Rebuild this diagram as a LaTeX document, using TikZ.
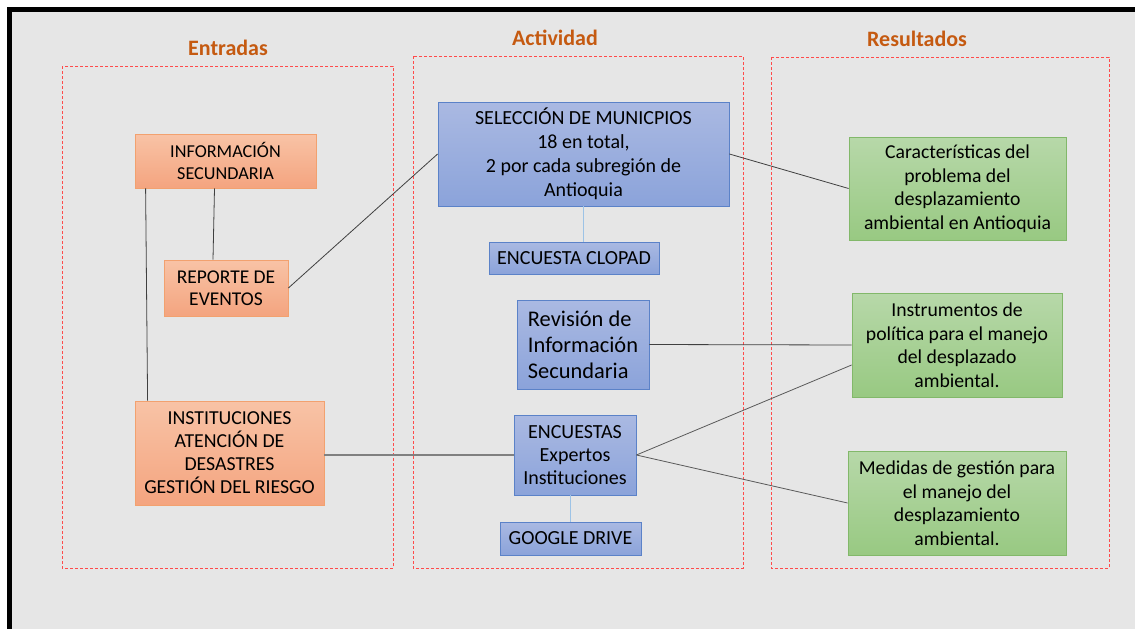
\documentclass[tikz,border=0pt]{standalone}
\usepackage{fontspec}
\setmainfont{Carlito}
\usepackage{xcolor}
\usepackage{tikz}
\usetikzlibrary{calc}

\definecolor{fondo}{HTML}{E6E6E6}
\definecolor{titulo}{HTML}{C55A11}
\definecolor{marcorojo}{HTML}{FF4B4B}
\definecolor{naranjaA}{HTML}{F8C3A6}
\definecolor{naranjaB}{HTML}{F4A47F}
\definecolor{naranjaC}{HTML}{F2A16F}
\definecolor{azulA}{HTML}{AAB9E2}
\definecolor{azulB}{HTML}{8BA3DA}
\definecolor{azulC}{HTML}{5B82C8}
\definecolor{verdeA}{HTML}{B7D8A9}
\definecolor{verdeB}{HTML}{98C982}
\definecolor{verdeC}{HTML}{82B86A}
\definecolor{lineaazul}{HTML}{9DC3E6}

\begin{document}
\begin{tikzpicture}[x=1pt,y=-1pt]%%flujo
                \tikzstyle{caja}      = [rectangle, draw, line width=0.8pt, align=center, inner sep=0pt, text=black]
                \tikzstyle{entrada}   = [caja, draw=naranjaC, top color=naranjaA, bottom color=naranjaB, font=\fontsize{18.2}{22.5}\selectfont]
                \tikzstyle{actividad} = [caja, draw=azulC, top color=azulA, bottom color=azulB, font=\fontsize{20}{24}\selectfont]
                \tikzstyle{resultado} = [caja, draw=verdeC, top color=verdeA, bottom color=verdeB, font=\fontsize{19.7}{23.5}\selectfont]
                \tikzstyle{marco}     = [draw=marcorojo, line width=1pt, dash pattern=on 3pt off 2pt]
                \tikzstyle{encabezado} = [text=titulo, font=\fontsize{22}{26}\selectfont\bfseries]
                \tikzstyle{enlace}    = [draw=black!75, line width=0.8pt]

                \useasboundingbox (0,0) rectangle (1135,629);
                \fill[white] (0,0) rectangle (1135,629);
                \fill[black] (7,7) rectangle (1135,629);
                \fill[fondo] (12,12) rectangle (1135,629);

                % marcos y encabezados
                \foreach \x/\y/\X/\t/\c in {62/66/393/Entradas/228, 413/56/743/Actividad/555, 771/57/1109/Resultados/917}{
                        \draw[marco] (\x,\y) rectangle (\X,568);
                        \node [encabezado] at (\c,\y-18) {\t};
                }

                % entradas
                \node [entrada, minimum width=181, minimum height=54](e1) at (225.5,161) {INFORMACIÓN\\SECUNDARIA};
                \node [entrada, minimum width=124, minimum height=56, font=\fontsize{19.5}{22}\selectfont](e2) at (226,288) {REPORTE DE\\EVENTOS};
                \node [entrada, minimum width=189, minimum height=104, font=\fontsize{19.8}{23}\selectfont](e3) at (229.5,453) {INSTITUCIONES\\ATENCIÓN DE\\DESASTRES\\GESTIÓN DEL RIESGO};

                % actividad
                \node [actividad, minimum width=291, minimum height=104](a1) at (583.5,154) {SELECCIÓN DE MUNICPIOS\\18 en total,\\2 por cada subregión de\\Antioquia};
                \node [actividad, minimum width=170, minimum height=32](a2) at (574,258) {ENCUESTA CLOPAD};
                \node [actividad, minimum width=132, minimum height=89, align=left, font=\fontsize{22.4}{26}\selectfont](a3) at (583,344.5) {Revisión de\\Información\\Secundaria};
                \node [actividad, minimum width=122, minimum height=80, font=\fontsize{20}{23}\selectfont](a4) at (575,455) {ENCUESTAS\\Expertos\\Instituciones};
                \node [actividad, minimum width=141, minimum height=33](a5) at (570.5,538.5) {GOOGLE DRIVE};

                % resultados
                \node [resultado, minimum width=217, minimum height=103](r1) at (957.5,188.5) {Características del\\problema del\\desplazamiento\\ambiental en Antioquia};
                \node [resultado, minimum width=210, minimum height=104](r2) at (957,345) {Instrumentos de\\política para el manejo\\del desplazado\\ambiental.};
                \node [resultado, minimum width=218, minimum height=104](r3) at (957,503) {Medidas de gestión para\\el manejo del\\desplazamiento\\ambiental.};

                \draw[enlace] ($(e1.south west)+(11,0)$)--($(e3.north west)+(13,0)$);
                \draw[enlace] ($(e1.south)+(-11,0)$)--($(e2.north)+(-13,0)$);
                \draw[enlace] (e2.east)--(a1.west);
                \draw[enlace] (a1.east)--(r1.west);
                \draw[enlace] (a3.east)--(r2.west);
                \draw[enlace, draw=black!50, line width=1.5pt] (e3.east |- a4.west)--(a4.west);
                \draw[enlace, draw=black!65] (a4.east)--($(r2.west)+(0,20)$);
                \draw[enlace, draw=black!65] (a4.east)--(r3.west);
                \draw[draw=lineaazul, line width=1.5pt] (a1.south)--(a1.south |- a2.north);
                \draw[draw=lineaazul, line width=1.5pt] (a5.north |- a4.south)--(a5.north);
\end{tikzpicture}
\end{document}
